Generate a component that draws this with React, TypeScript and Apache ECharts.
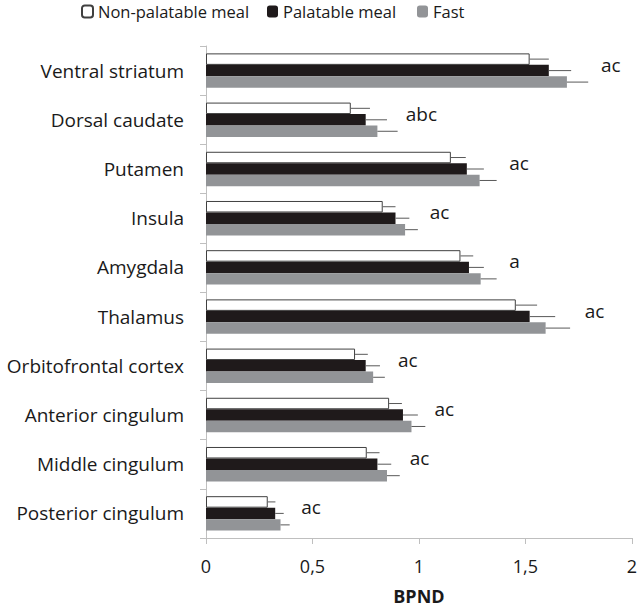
import React, { useEffect, useRef } from "react";
import * as echarts from "echarts";

const categories = [
  "Ventral striatum",
  "Dorsal caudate",
  "Putamen",
  "Insula",
  "Amygdala",
  "Thalamus",
  "Orbitofrontal cortex",
  "Anterior cingulum",
  "Middle cingulum",
  "Posterior cingulum",
];
const seriesNames = ["Non-palatable meal", "Palatable meal", "Fast"];
const nonPalatable = [1.52, 0.68, 1.15, 0.83, 1.195, 1.455, 0.70, 0.86, 0.755, 0.29];
const palatable = [1.61, 0.75, 1.225, 0.89, 1.235, 1.52, 0.75, 0.925, 0.805, 0.325];
const fast = [1.695, 0.805, 1.285, 0.935, 1.29, 1.595, 0.785, 0.965, 0.85, 0.35];
const nonPalatableErr = [0.09, 0.09, 0.07, 0.06, 0.06, 0.10, 0.06, 0.06, 0.06, 0.036];
const palatableErr = [0.105, 0.10, 0.08, 0.065, 0.07, 0.12, 0.067, 0.07, 0.065, 0.04];
const fastErr = [0.10, 0.095, 0.08, 0.06, 0.075, 0.115, 0.055, 0.065, 0.06, 0.043];
const letters = ["ac", "abc", "ac", "ac", "a", "ac", "ac", "ac", "ac", "ac"];
const letterPos = [1.855, 0.938, 1.424, 1.051, 1.424, 1.779, 0.902, 1.073, 0.957, 0.447];
const xTicks = { min: 0, max: 2, interval: 0.5 };

const FONT = "Open Sans";
const FS = 19;
const GAP = 0.3;

export default function App() {
  const ref = useRef<HTMLDivElement>(null);
  useEffect(() => {
    if (!ref.current) return;
    const chart = echarts.init(ref.current, null, { renderer: "svg" });
    const values = [nonPalatable, palatable, fast];
    const errs = [nonPalatableErr, palatableErr, fastErr];
    const colors = ["#ffffff", "#1f1a1b", "#929497"];

    const barSeries = seriesNames.map((name, i) => ({
      name,
      type: "bar",
      data: values[i],
      barGap: "0%",
      barCategoryGap: GAP * 100 + "%",
      itemStyle: {
        color: colors[i],
        borderColor: i === 0 ? "#404040" : colors[i],
        borderWidth: i === 0 ? 1 : 0,
      },
      silent: true,
    }));

    const errSeries = seriesNames.map((_, i) => ({
      type: "custom",
      silent: true,
      z: 5,
      data: values[i].map((v, k) => [v, k, v + errs[i][k]]),
      renderItem: (params: any, api: any) => {
        const k = api.value(1);
        const start = api.coord([api.value(0), k]);
        const end = api.coord([api.value(2), k]);
        const band = api.size([0, 1])[1];
        const bw = (band * (1 - GAP)) / 3;
        const y = start[1] + (i - 1) * bw;
        return {
          type: "line",
          shape: { x1: start[0], y1: y, x2: end[0], y2: y },
          style: { stroke: "#595959", lineWidth: 1 },
        };
      },
    }));

    const letterSeries = {
      type: "custom",
      silent: true,
      z: 6,
      data: letterPos.map((x, k) => [x, k, letters[k]]),
      renderItem: (params: any, api: any) => {
        const k = api.value(1);
        const p = api.coord([api.value(0), k]);
        return {
          type: "text",
          x: p[0],
          y: p[1] - 6,
          style: {
            text: letters[k],
            fill: "#1a1a1a",
            font: `${FS}px ${FONT}`,
            textAlign: "left",
            textVerticalAlign: "middle",
          },
        };
      },
    };

    const legendLefts = [76, 262, 412];
    const legendStyle = { fontFamily: FONT, fontSize: 16.5, color: "#1a1a1a" };

    chart.setOption({
      animation: false,
      backgroundColor: "#ffffff",
      legend: seriesNames.map((n, i) => ({
        data: [n],
        left: legendLefts[i],
        top: -2,
        itemWidth: 11,
        itemHeight: 12,
        textStyle: legendStyle,
      })),
      grid: { left: 206, right: 6, top: 46, bottom: 73, containLabel: false },
      xAxis: {
        type: "value",
        min: xTicks.min,
        max: xTicks.max,
        interval: xTicks.interval,
        name: "BPND",
        nameLocation: "middle",
        nameGap: 49,
        nameTextStyle: { fontFamily: FONT, fontSize: 18, fontWeight: "bold", color: "#1a1a1a" },
        axisLine: { show: true, lineStyle: { color: "#bfbfbf" } },
        axisTick: { show: true, length: 6, lineStyle: { color: "#bfbfbf" } },
        axisLabel: {
          fontFamily: FONT,
          fontSize: 18,
          color: "#1a1a1a",
          margin: 19,
          formatter: (v: number) => String(v).replace(".", ","),
        },
        splitLine: { show: false },
      },
      yAxis: {
        type: "category",
        data: categories,
        inverse: true,
        axisLine: { show: true, lineStyle: { color: "#bfbfbf" } },
        axisTick: { show: true, length: 6, lineStyle: { color: "#bfbfbf" } },
        axisLabel: { fontFamily: FONT, fontSize: FS, color: "#1a1a1a", margin: 22 },
      },
      series: [...barSeries, ...errSeries, letterSeries],
    });
    return () => chart.dispose();
  }, []);
  return (
    <div
      ref={ref}
      style={{ position: "absolute", left: 0, top: 0, width: 640, height: 611 }}
    />
  );
}
